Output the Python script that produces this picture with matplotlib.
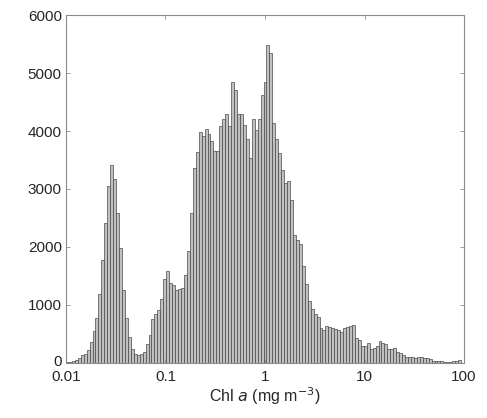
import numpy as np
import matplotlib
matplotlib.use('Agg')
import matplotlib.pyplot as plt
import matplotlib.transforms as mtransforms
from matplotlib.ticker import FixedLocator, FixedFormatter

# log10 bin width and start of the histogram
LOG_START = -2.0
LOG_WIDTH = 4.0 / 135

counts = [15, 25, 40, 60, 90, 130, 150, 230, 360, 550,
          770, 1190, 1780, 2420, 3050, 3410, 3170, 2580, 1980, 1260,
          770, 450, 240, 160, 145, 150, 190, 320, 490, 750,
          850, 910, 1110, 1450, 1580, 1380, 1340, 1250, 1270, 1290,
          1510, 1930, 2580, 3370, 3640, 3980, 3920, 4030, 3940, 3820,
          3660, 3650, 4080, 4210, 4290, 4080, 4840, 4710, 4290, 4290,
          4100, 3870, 3540, 4210, 4020, 4210, 4620, 4840, 5490, 5340,
          4130, 3860, 3620, 3330, 3100, 3130, 2810, 2210, 2120, 2050,
          1670, 1360, 1070, 925, 845, 800, 600, 575, 635, 625,
          595, 590, 575, 535, 610, 625, 645, 660, 430, 395,
          295, 300, 350, 245, 250, 290, 385, 340, 330, 240,
          245, 250, 195, 180, 140, 100, 95, 95, 85, 110,
          105, 90, 85, 70, 40, 30, 28, 27, 25, 25,
          25, 28, 30, 45]

x_ticks = [0.01, 0.1, 1, 10, 100]
x_tick_labels = ['0.01', '0.1', '1', '10', '100']
y_ticks = [0, 1000, 2000, 3000, 4000, 5000, 6000]

edges = 10 ** (LOG_START + LOG_WIDTH * np.arange(len(counts) + 1))

plt.rcParams['font.family'] = ['Liberation Sans', 'DejaVu Sans']

fig = plt.figure(figsize=(4.87, 4.18), dpi=100)
ax = fig.add_axes([0.1355, 0.1316, 0.8173, 0.8325])

ax.bar(edges[:-1], counts, width=np.diff(edges), align='edge',
       color='#c0c0c0', edgecolor='#4a4a4a', linewidth=0.5)

ax.set_xscale('log')
ax.set_xlim(0.01, 100)
ax.set_ylim(0, 6000)
ax.xaxis.set_major_locator(FixedLocator(x_ticks))
ax.xaxis.set_major_formatter(FixedFormatter(x_tick_labels))
ax.xaxis.set_minor_locator(FixedLocator([]))
ax.set_yticks(y_ticks)
ax.set_yticklabels([str(v) for v in y_ticks])

for s in ax.spines.values():
    s.set_color('#8c8c8c')
    s.set_linewidth(0.8)
ax.tick_params(direction='in', length=3, width=0.6, color='#8c8c8c',
               top=True, right=True, labelsize=11, labelcolor='#262626')
ax.tick_params(axis='y', pad=3)
ax.tick_params(axis='x', pad=5)

# nudge the "0" label up slightly so it clears "0.01"
zero_lbl = ax.yaxis.get_major_ticks()[0].label1
zero_lbl.set_transform(zero_lbl.get_transform() +
                       mtransforms.ScaledTranslation(0, 2 / 72, fig.dpi_scale_trans))

ax.set_xlabel('Chl $\\it{a}$ (mg m$^{-3}$)', fontsize=11.5, color='#262626', labelpad=1)

fig.savefig('out.png', dpi=100)
